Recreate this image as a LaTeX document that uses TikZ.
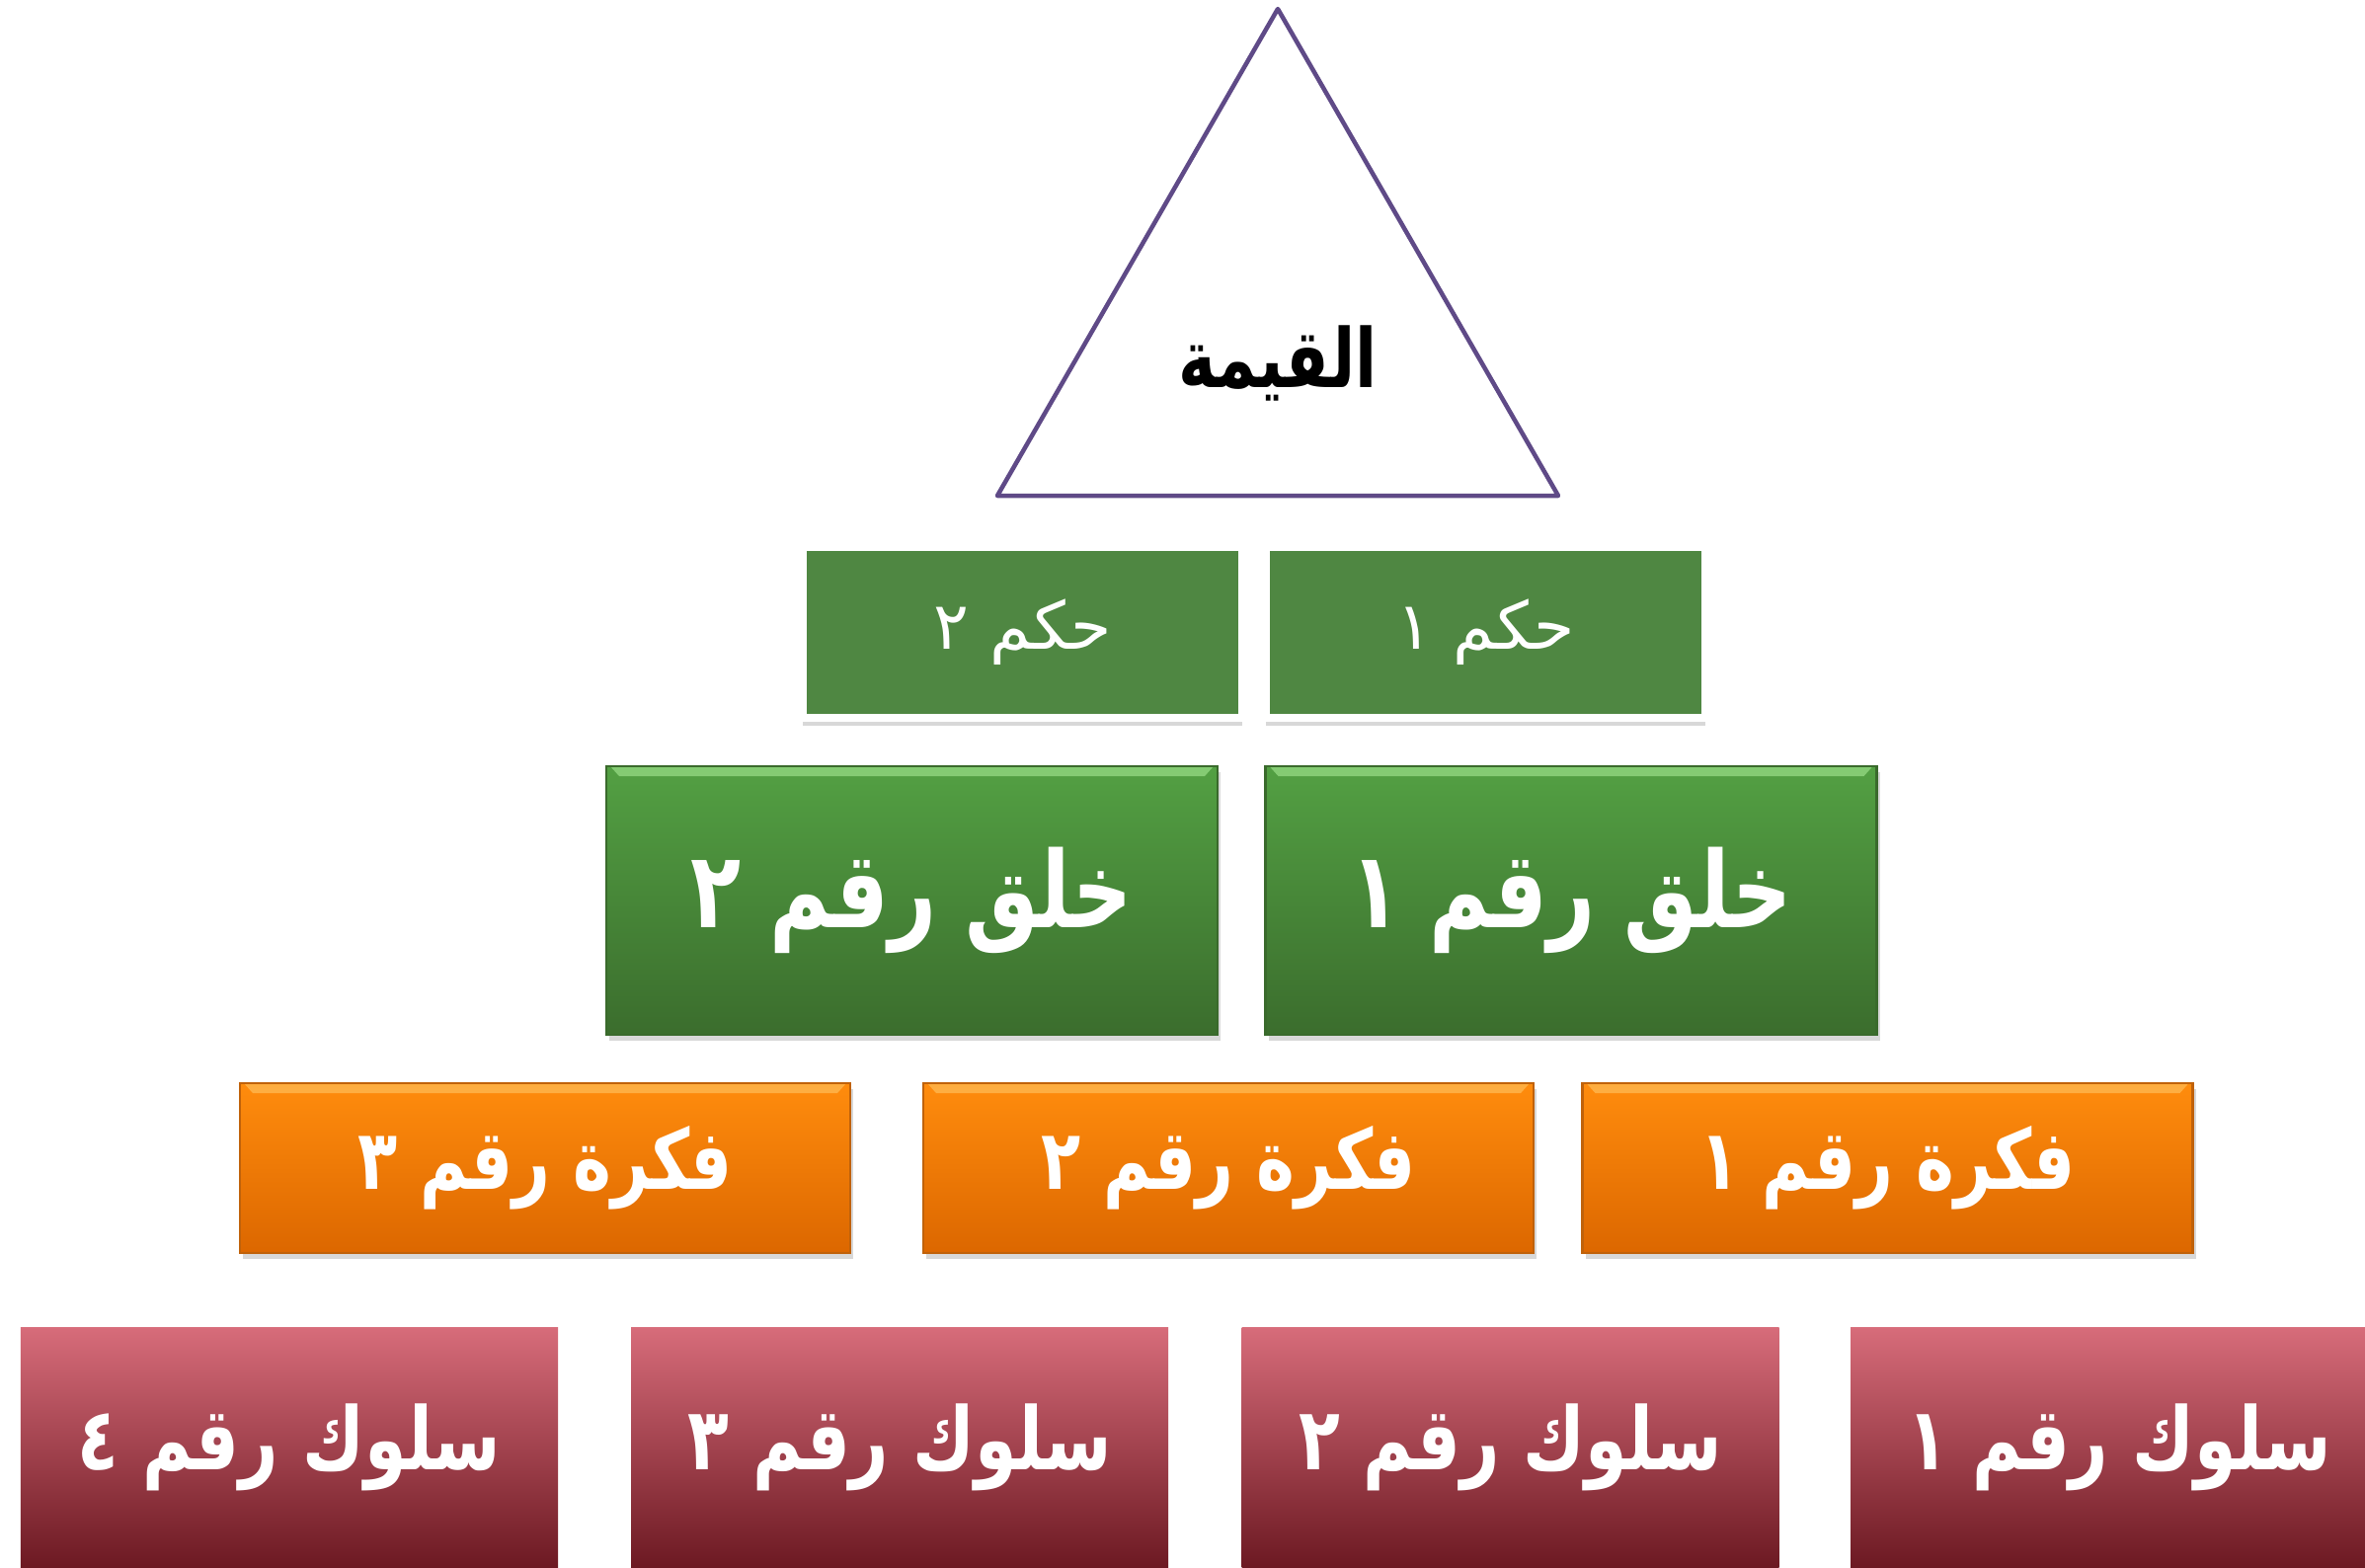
\documentclass[tikz,border=0pt]{standalone}
\usepackage{fontspec}
\newfontfamily\arabicfont[Script=Arabic, FakeStretch=0.78]{DejaVu Sans}
\newfontfamily\arabicplain[Script=Arabic]{DejaVu Sans}
\TeXXeTstate=1
\usetikzlibrary{shadows}

\definecolor{valueline}{HTML}{5F4A87}
\definecolor{rulegreen}{HTML}{4F8742}
\definecolor{ethictop}{HTML}{53A043}
\definecolor{ethicbot}{HTML}{3B6D2D}
\definecolor{ethicrim}{HTML}{3A6A2C}
\definecolor{ethicshine}{HTML}{90D67E}
\definecolor{ideatop}{HTML}{FF8C0D}
\definecolor{ideabot}{HTML}{DC6700}
\definecolor{idearim}{HTML}{C0620A}
\definecolor{ideashine}{HTML}{FFB54A}
\definecolor{acttop}{HTML}{D76C7A}
\definecolor{actbot}{HTML}{6C1922}

\tikzset{
  rulebox/.style={fill=rulegreen, draw=white, line width=0.8mm,
    minimum width=44.5mm, minimum height=17.3mm, inner sep=0pt,
    drop shadow={shadow xshift=0mm, shadow yshift=-0.8mm, opacity=0.3},
    font=\arabicplain\fontsize{19}{23}\selectfont, text=white},
  ethicbox/.style={top color=ethictop, bottom color=ethicbot, draw=ethicrim,
    line width=0.25mm, minimum width=61.9mm, minimum height=27.2mm, inner sep=0pt,
    drop shadow={shadow xshift=0.3mm, shadow yshift=-0.6mm, opacity=0.3},
    shine=ethicshine,
    font=\arabicfont\bfseries\fontsize{30.5}{36}\selectfont, text=white},
  ideabox/.style={top color=ideatop, bottom color=ideabot, draw=idearim,
    line width=0.25mm, minimum width=61.8mm, minimum height=17.2mm, inner sep=0pt,
    drop shadow={shadow xshift=0.3mm, shadow yshift=-0.6mm, opacity=0.3},
    shine=ideashine,
    font=\arabicfont\bfseries\fontsize{24}{29}\selectfont, text=white},
  actbox/.style={top color=acttop, bottom color=actbot, draw=none,
    minimum width=54.4mm, minimum height=24.4mm, inner sep=0pt,
    font=\arabicfont\bfseries\fontsize{25}{30}\selectfont, text=white},
  shine/.style={path picture={\shade[top color=#1, bottom color=#1!30!white, opacity=0.8]
    ([xshift=0.4mm]path picture bounding box.north west) --
    ([xshift=-0.4mm]path picture bounding box.north east) --
    ([xshift=-1.3mm, yshift=-1mm]path picture bounding box.north east) --
    ([xshift=1.3mm, yshift=-1mm]path picture bounding box.north west) -- cycle;}},
}

\begin{document}
\begin{tikzpicture}[x=1mm, y=-1mm]
  %%%%% START %%%%%
  \clip (0, 0) rectangle (239.5, 158.7);
  \fill[white] (0, 0) rectangle (239.5, 158.7);

  % the value on top
  \coordinate (apex) at (129.4, 0.9);
  \coordinate (baseL) at (101, 50.2);
  \coordinate (baseR) at (157.8, 50.2);
  \draw[valueline, line width=0.45mm, line join=round] (apex) -- (baseL) -- (baseR) -- cycle;
  \node[inner sep=0pt, font=\arabicfont\bfseries\fontsize{23.5}{28}\selectfont] (value) at (129.4, 36.8) {\beginR القيمة\endR};

  % rulings
  \node[rulebox] (hukm1) at (150.45, 64) {\beginR حكم ١\endR};
  \node[rulebox] (hukm2) at (103.55, 64) {\beginR حكم ٢\endR};

  % ethics
  \node[ethicbox] (khuluq1) at (159.1, 91.2) {\beginR خلق رقم ١\endR};
  \node[ethicbox] (khuluq2) at (92.35, 91.2) {\beginR خلق رقم ٢\endR};

  % ideas
  \node[ideabox] (fikra1) at (191.15, 118.3) {\beginR فكرة رقم ١\endR};
  \node[ideabox] (fikra2) at (124.4, 118.3) {\beginR فكرة رقم ٢\endR};
  \node[ideabox] (fikra3) at (55.2, 118.3) {\beginR فكرة رقم ٣\endR};

  % behaviours
  \node[actbox] (suluk1) at (214.6, 146.6) {\beginR سلوك رقم ١\endR};
  \node[actbox] (suluk2) at (152.95, 146.6) {\beginR سلوك رقم ٢\endR};
  \node[actbox] (suluk3) at (91.1, 146.6) {\beginR سلوك رقم ٣\endR};
  \node[actbox] (suluk4) at (29.3, 146.6) {\beginR سلوك رقم ٤\endR};
  %%%%% END %%%%%
\end{tikzpicture}
\end{document}
